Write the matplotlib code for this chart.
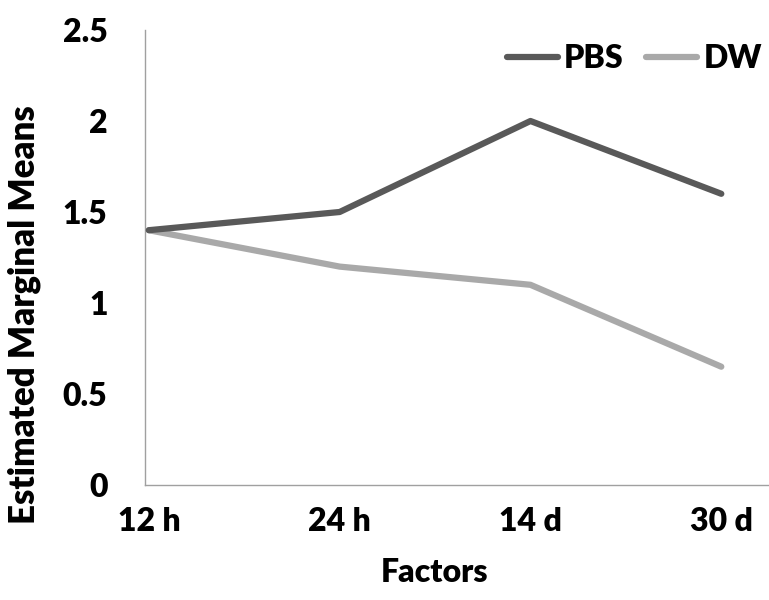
import matplotlib.pyplot as plt

categories = ["12 h", "24 h", "14 d", "30 d"]
pbs = [1.4, 1.5, 2.0, 1.6]
dw = [1.4, 1.2, 1.1, 0.65]
yticks = [0, 0.5, 1, 1.5, 2, 2.5]
ytick_labels = ["0", "0.5", "1", "1.5", "2", "2.5"]

plt.rcParams["font.family"] = ["Lato", "DejaVu Sans"]
plt.rcParams["font.weight"] = "bold"

fig = plt.figure(figsize=(7.69, 6), dpi=100)
ax = fig.add_axes([145 / 769, 1 - 485 / 600, (769 - 145) / 769, (485 - 30) / 600])

x = list(range(len(categories)))
ax.plot(x, pbs, color="#595959", lw=4.5, solid_capstyle="round", label="PBS", zorder=3)
ax.plot(x, dw, color="#a9a9a9", lw=4.5, solid_capstyle="round", label="DW", zorder=2)

ax.set_xlim(-0.02, 3.25)
ax.set_ylim(0, 2.5)
ax.set_xticks(x)
ax.set_xticklabels(categories, fontsize=23, fontweight="heavy")
ax.set_yticks(yticks)
ax.set_yticklabels(ytick_labels, fontsize=23, fontweight="heavy")
ax.tick_params(axis="x", length=0, pad=16)
ax.tick_params(axis="y", length=0, pad=27)

for s in ["top", "right"]:
    ax.spines[s].set_visible(False)
for s in ["left", "bottom"]:
    ax.spines[s].set_color("#a0a0a0")
    ax.spines[s].set_linewidth(1)

ax.set_xlabel("Factors", fontsize=23, fontweight="heavy")
ax.xaxis.set_label_coords((435 - 145) / 624, (485 - 558) / 455)
ax.set_ylabel("Estimated Marginal Means", fontsize=25, fontweight="heavy")
ax.yaxis.set_label_coords((41 - 145) / 624, (485 - 315) / 455)

ax.legend(loc="center right", bbox_to_anchor=(762 / 769, 1 - 59 / 600),
          bbox_transform=fig.transFigure, ncol=2, frameon=False,
          borderpad=0, borderaxespad=0,
          handlelength=1.6, handletextpad=0.2, columnspacing=0.7,
          prop={"weight": "heavy", "size": 23})

fig.savefig("out.png", dpi=100)
